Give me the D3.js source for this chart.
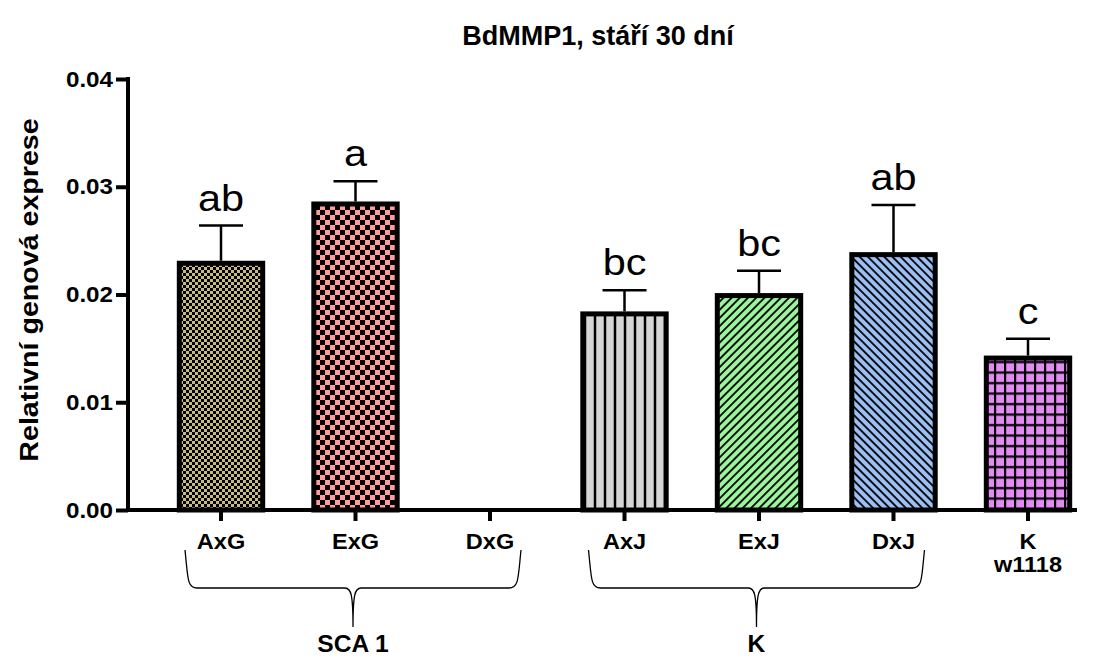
<!DOCTYPE html>
<html><head><meta charset="utf-8">
<script src="https://cdn.jsdelivr.net/npm/d3@7"></script>
<style>body{margin:0;background:#fff}svg{display:block}text{font-family:"Liberation Sans",Arial,sans-serif}</style>
</head><body>
<svg id="c" width="1112" height="658"></svg>
<script>
const categories = ["AxG","ExG","DxG","AxJ","ExJ","DxJ","K\nw1118"];
const means = [0.0229, 0.0284, null, 0.0182, 0.0199, 0.0237, 0.0141];
const sems  = [0.0035, 0.0021, null, 0.0022, 0.0023, 0.0046, 0.0018];
const letters = ["ab","a","","bc","bc","ab","c"];
const fills = ["pAxG","pExG","","pAxJ","pExJ","pDxJ","pK"];
const yTicks = [0, 0.01, 0.02, 0.03, 0.04];
const groups = [{label:"SCA 1", from:0, to:2},{label:"K", from:3, to:5}];

const SX = 1.07;
const svg = d3.select("#c");
const defs = svg.append("defs");
function checker(id, s, bg){
  const p = defs.append("pattern").attr("id",id).attr("patternUnits","userSpaceOnUse").attr("width",2*s).attr("height",2*s);
  p.append("rect").attr("width",2*s).attr("height",2*s).attr("fill",bg);
  p.append("rect").attr("width",s).attr("height",s).attr("fill","#000");
  p.append("rect").attr("x",s).attr("y",s).attr("width",s).attr("height",s).attr("fill","#000");
}
checker("pAxG",3,"#c9bb7c");
checker("pExG",5,"#ff9c9c");
function lines(id, w, lw, bg, rot){
  const p = defs.append("pattern").attr("id",id).attr("patternUnits","userSpaceOnUse").attr("width",w).attr("height",w);
  if(rot) p.attr("patternTransform","rotate("+rot+")");
  p.append("rect").attr("width",w).attr("height",w).attr("fill",bg);
  p.append("rect").attr("x",w/2-lw/2).attr("width",lw).attr("height",w).attr("fill","#000");
}
lines("pAxJ",10,2.5,"#d6d6d6",0);
lines("pExJ",5.8,1.8,"#9cf49c",45);
lines("pDxJ",5.8,1.8,"#9cc0f4",-45);
(function(){
  const p = defs.append("pattern").attr("id","pK").attr("patternUnits","userSpaceOnUse").attr("width",10).attr("height",10.5);
  p.append("rect").attr("width",10).attr("height",10.5).attr("fill","#e28cf2");
  p.append("rect").attr("x",4).attr("width",2.2).attr("height",10.5).attr("fill","#000");
  p.append("rect").attr("y",4).attr("width",10).attr("height",2.2).attr("fill","#000");
})();

const x = d3.scaleBand().domain(categories).range([153.75,1095.25]).padding(0);
const y = d3.scaleLinear().domain([0,0.04]).range([510,79]);
const bw = x.bandwidth()*0.62;
const cx = c => x(c)+x.bandwidth()/2;

// title
svg.append("text").attr("x",598).attr("y",45).attr("text-anchor","middle")
  .attr("font-size",27).attr("font-weight","bold").text("BdMMP1, stáří 30 dní");
// y title
svg.append("text").attr("transform","translate(38,290) rotate(-90) scale(1.1,1)").attr("text-anchor","middle")
  .attr("font-size",26).attr("font-weight","bold").text("Relativní genová exprese");

// bars
const data = categories.map((c,i)=>({c, m:means[i], s:sems[i], l:letters[i], f:fills[i]})).filter(d=>d.m!=null);
svg.selectAll("rect.bar").data(data).join("rect").attr("class","bar")
  .attr("x",d=>cx(d.c)-bw/2).attr("width",bw)
  .attr("y",d=>y(d.m)).attr("height",d=>y(0)-y(d.m))
  .attr("fill",d=>"url(#"+d.f+")").attr("stroke","#000").attr("stroke-width",5);
// error bars
const eb = svg.selectAll("g.eb").data(data).join("g").attr("class","eb").attr("stroke","#000").attr("stroke-width",2.5);
eb.append("line").attr("x1",d=>cx(d.c)).attr("x2",d=>cx(d.c)).attr("y1",d=>y(d.m)-2.5).attr("y2",d=>y(d.m+d.s));
eb.append("line").attr("x1",d=>cx(d.c)-22).attr("x2",d=>cx(d.c)+22).attr("y1",d=>y(d.m+d.s)).attr("y2",d=>y(d.m+d.s));
// letters
svg.selectAll("text.let").data(data).join("text").attr("class","let")
  .attr("transform",d=>`translate(${cx(d.c)},${y(d.m+d.s)-15}) scale(1.12,1)`).attr("text-anchor","middle")
  .attr("font-size",37).text(d=>d.l);

// y axis
const ya = svg.append("g").attr("transform","translate(128,0)")
  .call(d3.axisLeft(y).tickValues(yTicks).tickFormat(d3.format(".2f")).tickSize(12).tickPadding(3));
ya.select(".domain").attr("stroke-width",4).attr("d","M0,510V77");
ya.selectAll(".tick line").attr("stroke-width",4);
ya.selectAll(".tick text").attr("font-size",22).attr("font-weight","bold").attr("fill","#000")
  .attr("font-family","Liberation Sans, Arial, sans-serif")
  .each(function(){ const t=d3.select(this); const xx=+t.attr("x"); t.attr("x",0).attr("transform",`translate(${xx},0) scale(1.1,1)`); });

// x axis
const xa = svg.append("g").attr("transform","translate(0,510)")
  .call(d3.axisBottom(x).tickSize(11).tickFormat(""));
xa.select(".domain").attr("stroke-width",4).attr("d","M126,0H1077");
xa.selectAll(".tick line").attr("stroke-width",4);
xa.selectAll(".tick").each(function(d){
  const parts = d.split("\n");
  const t = d3.select(this).append("text").attr("fill","#000").attr("font-size",22).attr("font-weight","bold")
    .attr("text-anchor","middle").attr("font-family","Liberation Sans, Arial, sans-serif")
    .attr("transform",`scale(${SX},1)`);
  parts.forEach((p,k)=>t.append("tspan").attr("x",0).attr("y",39+k*23).text(p));
});

// braces
groups.forEach(g=>{
  const x0 = cx(categories[g.from])-36, x1 = cx(categories[g.to])+31;
  const xc = (x0+x1)/2, top=550, H=588, B=627;
  const path = `M${x0},${top} C${x0+3},${top+28} ${x0+2},${H} ${x0+12},${H} L${xc-8},${H} C${xc-2},${H} ${xc},${H+6} ${xc},${B}`+
               ` M${xc},${B} C${xc},${H+6} ${xc+2},${H} ${xc+8},${H} L${x1-12},${H} C${x1-2},${H} ${x1-3},${top+28} ${x1},${top}`;
  svg.append("path").attr("d",path).attr("fill","none").attr("stroke","#000").attr("stroke-width",1.3);
  svg.append("text").attr("transform",`translate(${xc},652) scale(${SX},1)`).attr("text-anchor","middle")
    .attr("font-size",23).attr("font-weight","bold").text(g.label);
});
</script>
</body></html>
